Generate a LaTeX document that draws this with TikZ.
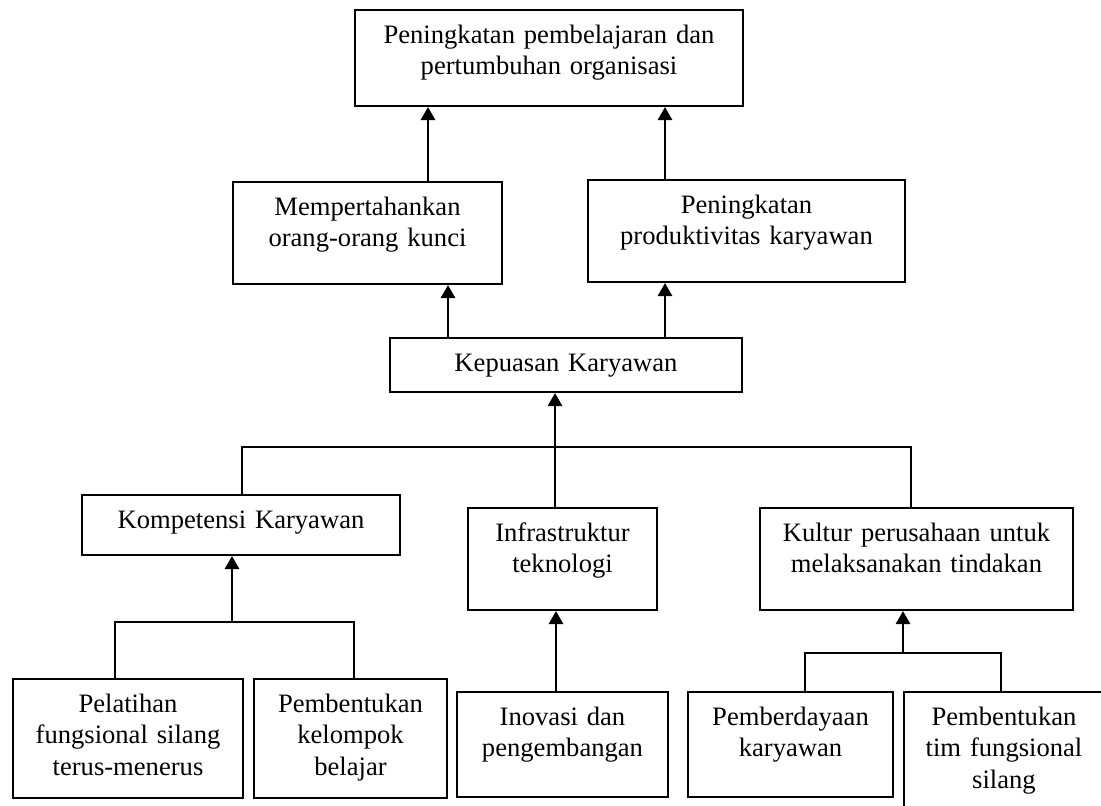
\documentclass[tikz,border=0pt]{standalone}
\usepackage{fontspec}
\setmainfont{Liberation Serif}
\usetikzlibrary{arrows.meta}

\begin{document}
\begin{tikzpicture}[x=0.5pt,y=-0.5pt,
  font=\fontsize{13.3pt}{15.8pt}\selectfont,
  box/.style={draw,line width=1pt,anchor=north west,align=center,inner xsep=0pt,inner ysep=7pt,text height=9.5pt},
  link/.style={line width=1pt},
  arr/.style={-{Triangle[length=6.5pt,width=7pt]},line width=1.4pt}]
  \clip (0,0) rectangle (1101,805);

  \node[box,text width=194pt,text depth=24.5pt] (growth) at (354,9) {Peningkatan pembelajaran dan\\pertumbuhan organisasi};
  \node[box,text width=134.5pt,text depth=27.5pt] (retain) at (232,181) {Mempertahankan\\orang-orang kunci};
  \node[box,text width=158.5pt,text depth=27.5pt] (prod) at (587,179) {Peningkatan\\produktivitas karyawan};
  \node[box,text width=176pt,text depth=3.5pt] (satis) at (389,337) {Kepuasan Karyawan};
  \node[box,text width=159pt,text depth=6.5pt] (comp) at (81,494) {Kompetensi Karyawan};
  \node[box,text width=94.5pt,text depth=27.5pt] (infra) at (467,507) {Infrastruktur\\teknologi};
  \node[box,text width=156.5pt,text depth=27.5pt] (culture) at (759,507) {Kultur perusahaan untuk\\melaksanakan tindakan};
  \node[box,text width=115pt,text depth=36pt] (train) at (12,678) {Pelatihan\\fungsional silang\\terus-menerus};
  \node[box,text width=96.5pt,text depth=36pt] (group) at (253,678) {Pembentukan\\kelompok\\belajar};
  \node[box,text width=105.5pt,text depth=29pt] (innov) at (456,691) {Inovasi dan\\pengembangan};
  \node[box,text width=102.5pt,text depth=29pt] (empower) at (687,691) {Pemberdayaan\\karyawan};
  \node[box,text width=100pt,text depth=37pt] (team) at (903,691) {Pembentukan\\tim fungsional\\silang};

  % joints of the branch lines
  \coordinate (hub) at (555,447);
  \coordinate (compjoin) at (232,622);
  \coordinate (culjoin) at (903,653);

  \draw[arr] (retain.north -| 428,0) -- (growth.south -| 428,0);
  \draw[arr] (prod.north -| 665,0) -- (growth.south -| 665,0);
  \draw[arr] (satis.north -| 448,0) -- (retain.south -| 448,0);
  \draw[arr] (satis.north -| 665,0) -- (prod.south -| 665,0);

  \draw[link] (comp.north -| 242,0) |- (hub) -| (culture.north -| 911,0);
  \draw[arr] (infra.north -| hub) -- (satis.south -| hub);

  \draw[link] (train.north -| 115,0) |- (compjoin) -| (group.north -| 354,0);
  \draw[arr] (compjoin) -- (comp.south -| compjoin);

  \draw[arr] (innov.north -| 556,0) -- (infra.south -| 556,0);

  \draw[link] (empower.north -| 805,0) |- (culjoin) -| (team.north -| 1001,0);
  \draw[arr] (culjoin) -- (culture.south -| culjoin);
\end{tikzpicture}
\end{document}
